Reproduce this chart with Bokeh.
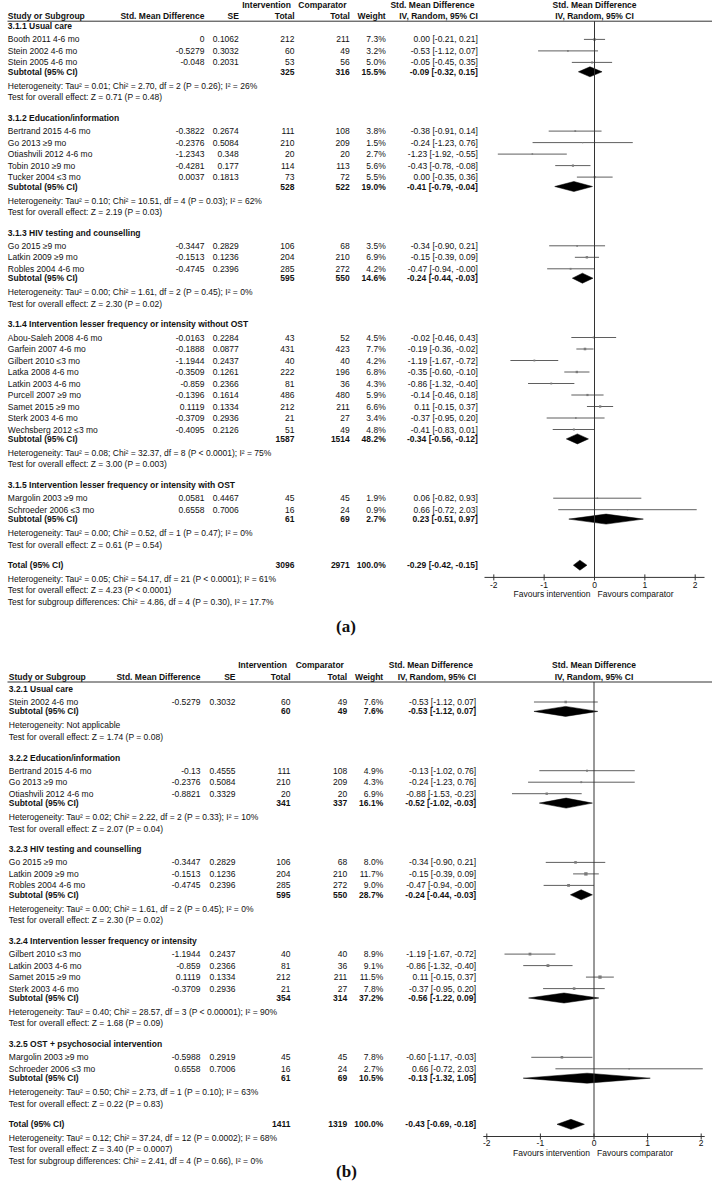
from bokeh.plotting import figure
from bokeh.models import Range1d, ColumnDataSource
from bokeh.layouts import column
from bokeh.embed import file_html
from bokeh.resources import INLINE
from bokeh.core.properties import value

# ======================= DATA: panel (a) =======================
a_groups = ["3.1.1 Usual care", "3.1.2 Education/information",
            "3.1.3 HIV testing and counselling",
            "3.1.4 Intervention lesser frequency or intensity without OST",
            "3.1.5 Intervention lesser frequency or intensity with OST"]
a_group_of = [0, 0, 0, 1, 1, 1, 1, 1, 2, 2, 2, 3, 3, 3, 3, 3, 3, 3, 3, 3, 4, 4]
a_study = ["Booth 2011 4-6 mo", "Stein 2002 4-6 mo", "Stein 2005 4-6 mo",
           "Bertrand 2015 4-6 mo", "Go 2013 \u22659 mo", "Otiashvili 2012 4-6 mo",
           "Tobin 2010 \u22659 mo", "Tucker 2004 \u22643 mo",
           "Go 2015 \u22659 mo", "Latkin 2009 \u22659 mo", "Robles 2004 4-6 mo",
           "Abou-Saleh 2008 4-6 mo", "Garfein 2007 4-6 mo", "Gilbert 2010 \u22643 mo",
           "Latka 2008 4-6 mo", "Latkin 2003 4-6 mo", "Purcell 2007 \u22659 mo",
           "Samet 2015 \u22659 mo", "Sterk 2003 4-6 mo", "Wechsberg 2012 \u22643 mo",
           "Margolin 2003 \u22659 mo", "Schroeder 2006 \u22643 mo"]
a_smd = [0, -0.5279, -0.048, -0.3822, -0.2376, -1.2343, -0.4281, 0.0037,
         -0.3447, -0.1513, -0.4745, -0.0163, -0.1888, -1.1944, -0.3509, -0.859,
         -0.1396, 0.1119, -0.3709, -0.4095, 0.0581, 0.6558]
a_se = [0.1062, 0.3032, 0.2031, 0.2674, 0.5084, 0.348, 0.177, 0.1813,
        0.2829, 0.1236, 0.2396, 0.2284, 0.0877, 0.2437, 0.1261, 0.2366,
        0.1614, 0.1334, 0.2936, 0.2126, 0.4467, 0.7006]
a_n_int = [212, 60, 53, 111, 210, 20, 114, 73, 106, 204, 285, 43, 431, 40, 222, 81,
           486, 212, 21, 51, 45, 16]
a_n_comp = [211, 49, 56, 108, 209, 20, 113, 72, 68, 210, 272, 52, 423, 40, 196, 36,
            480, 211, 27, 49, 45, 24]
a_weight = [7.3, 3.2, 5.0, 3.8, 1.5, 2.7, 5.6, 5.5, 3.5, 6.9, 4.2, 4.5, 7.7, 4.2, 6.8,
            4.3, 5.9, 6.6, 3.4, 4.8, 1.9, 0.9]
a_lo = [-0.21, -1.12, -0.45, -0.91, -1.23, -1.92, -0.78, -0.35, -0.90, -0.39, -0.94,
        -0.46, -0.36, -1.67, -0.60, -1.32, -0.46, -0.15, -0.95, -0.83, -0.82, -0.72]
a_hi = [0.21, 0.07, 0.35, 0.14, 0.76, -0.55, -0.08, 0.36, 0.21, 0.09, -0.00,
        0.43, -0.02, -0.72, -0.10, -0.40, 0.18, 0.37, 0.20, 0.01, 0.93, 2.03]
a_sub_n_int = [325, 528, 595, 1587, 61]
a_sub_n_comp = [316, 522, 550, 1514, 69]
a_sub_weight = [15.5, 19.0, 14.6, 48.2, 2.7]
a_sub_est = [-0.09, -0.41, -0.24, -0.34, 0.23]
a_sub_lo = [-0.32, -0.79, -0.44, -0.56, -0.51]
a_sub_hi = [0.15, -0.04, -0.03, -0.12, 0.97]
a_sub_het = ["Heterogeneity: Tau\u00b2 = 0.01; Chi\u00b2 = 2.70, df = 2 (P = 0.26); I\u00b2 = 26%",
             "Heterogeneity: Tau\u00b2 = 0.10; Chi\u00b2 = 10.51, df = 4 (P = 0.03); I\u00b2 = 62%",
             "Heterogeneity: Tau\u00b2 = 0.00; Chi\u00b2 = 1.61, df = 2 (P = 0.45); I\u00b2 = 0%",
             "Heterogeneity: Tau\u00b2 = 0.08; Chi\u00b2 = 32.37, df = 8 (P < 0.0001); I\u00b2 = 75%",
             "Heterogeneity: Tau\u00b2 = 0.00; Chi\u00b2 = 0.52, df = 1 (P = 0.47); I\u00b2 = 0%"]
a_sub_test = ["Test for overall effect: Z = 0.71 (P = 0.48)",
              "Test for overall effect: Z = 2.19 (P = 0.03)",
              "Test for overall effect: Z = 2.30 (P = 0.02)",
              "Test for overall effect: Z = 3.00 (P = 0.003)",
              "Test for overall effect: Z = 0.61 (P = 0.54)"]
a_tot_n = [3096, 2971]
a_tot_weight = 100.0
a_tot_ci = [-0.29, -0.42, -0.15]
a_tot_notes = ["Heterogeneity: Tau\u00b2 = 0.05; Chi\u00b2 = 54.17, df = 21 (P < 0.0001); I\u00b2 = 61%",
               "Test for overall effect: Z = 4.23 (P < 0.0001)",
               "Test for subgroup differences: Chi\u00b2 = 4.86, df = 4 (P = 0.30), I\u00b2 = 17.7%"]

# ======================= DATA: panel (b) =======================
b_groups = ["3.2.1 Usual care", "3.2.2 Education/information",
            "3.2.3 HIV testing and counselling",
            "3.2.4 Intervention lesser frequency or intensity",
            "3.2.5 OST + psychosocial intervention"]
b_group_of = [0, 1, 1, 1, 2, 2, 2, 3, 3, 3, 3, 4, 4]
b_study = ["Stein 2002 4-6 mo", "Bertrand 2015 4-6 mo", "Go 2013 \u22659 mo",
           "Otiashvili 2012 4-6 mo", "Go 2015 \u22659 mo", "Latkin 2009 \u22659 mo",
           "Robles 2004 4-6 mo", "Gilbert 2010 \u22643 mo", "Latkin 2003 4-6 mo",
           "Samet 2015 \u22659 mo", "Sterk 2003 4-6 mo", "Margolin 2003 \u22659 mo",
           "Schroeder 2006 \u22643 mo"]
b_smd = [-0.5279, -0.13, -0.2376, -0.8821, -0.3447, -0.1513, -0.4745, -1.1944, -0.859,
         0.1119, -0.3709, -0.5988, 0.6558]
b_se = [0.3032, 0.4555, 0.5084, 0.3329, 0.2829, 0.1236, 0.2396, 0.2437, 0.2366, 0.1334,
        0.2936, 0.2919, 0.7006]
b_n_int = [60, 111, 210, 20, 106, 204, 285, 40, 81, 212, 21, 45, 16]
b_n_comp = [49, 108, 209, 20, 68, 210, 272, 40, 36, 211, 27, 45, 24]
b_weight = [7.6, 4.9, 4.3, 6.9, 8.0, 11.7, 9.0, 8.9, 9.1, 11.5, 7.8, 7.8, 2.7]
b_lo = [-1.12, -1.02, -1.23, -1.53, -0.90, -0.39, -0.94, -1.67, -1.32, -0.15, -0.95,
        -1.17, -0.72]
b_hi = [0.07, 0.76, 0.76, -0.23, 0.21, 0.09, -0.00, -0.72, -0.40, 0.37, 0.20, -0.03, 2.03]
b_sub_n_int = [60, 341, 595, 354, 61]
b_sub_n_comp = [49, 337, 550, 314, 69]
b_sub_weight = [7.6, 16.1, 28.7, 37.2, 10.5]
b_sub_est = [-0.53, -0.52, -0.24, -0.56, -0.13]
b_sub_lo = [-1.12, -1.02, -0.44, -1.22, -1.32]
b_sub_hi = [0.07, -0.03, -0.03, 0.09, 1.05]
b_sub_het = ["Heterogeneity: Not applicable",
             "Heterogeneity: Tau\u00b2 = 0.02; Chi\u00b2 = 2.22, df = 2 (P = 0.33); I\u00b2 = 10%",
             "Heterogeneity: Tau\u00b2 = 0.00; Chi\u00b2 = 1.61, df = 2 (P = 0.45); I\u00b2 = 0%",
             "Heterogeneity: Tau\u00b2 = 0.40; Chi\u00b2 = 28.57, df = 3 (P < 0.00001); I\u00b2 = 90%",
             "Heterogeneity: Tau\u00b2 = 0.50; Chi\u00b2 = 2.73, df = 1 (P = 0.10); I\u00b2 = 63%"]
b_sub_test = ["Test for overall effect: Z = 1.74 (P = 0.08)",
              "Test for overall effect: Z = 2.07 (P = 0.04)",
              "Test for overall effect: Z = 2.30 (P = 0.02)",
              "Test for overall effect: Z = 1.68 (P = 0.09)",
              "Test for overall effect: Z = 0.22 (P = 0.83)"]
b_tot_n = [1411, 1319]
b_tot_weight = 100.0
b_tot_ci = [-0.43, -0.69, -0.18]
b_tot_notes = ["Heterogeneity: Tau\u00b2 = 0.12; Chi\u00b2 = 37.24, df = 12 (P = 0.0002); I\u00b2 = 68%",
               "Test for overall effect: Z = 3.40 (P = 0.0007)",
               "Test for subgroup differences: Chi\u00b2 = 2.41, df = 4 (P = 0.66), I\u00b2 = 0%"]

axis_ticks = [-2, -1, 0, 1, 2]
favours = ["Favours intervention", "Favours comparator"]

# ======================= STYLE / LAYOUT =======================
FONT = "Liberation Sans"
SERIF = "Liberation Serif"
FS = 8.5
TXT = "#111111"
CI_COL = "#5f5f5f"
SQ_COL = "#7a7a7a"
W = 712
X0 = 0.0
G_TO_S, STUDY, S_TO_SUB, SUB_TO_HET, HET_TO_TEST, GAP = 13.2, 11.5, 9.4, 14.0, 11.4, 20.7
TOT_TO_HET, HET_TO_TEST2, TEST_TO_SG = 13.8, 11.2, 11.6


def stack(group_of, n_groups, g1):
    gy, sy, suby, hety, testy = [], [], [], [], []
    y = g1
    for g in range(n_groups):
        if g:
            y += GAP
        gy.append(y)
        y += G_TO_S
        for i in range(group_of.count(g)):
            if i:
                y += STUDY
            sy.append(y)
        y += S_TO_SUB
        suby.append(y)
        y += SUB_TO_HET
        hety.append(y)
        y += HET_TO_TEST
        testy.append(y)
    tot = y + GAP
    tail = [tot + TOT_TO_HET, tot + TOT_TO_HET + HET_TO_TEST2,
            tot + TOT_TO_HET + HET_TO_TEST2 + TEST_TO_SG]
    return gy, sy, suby, hety, testy, tot, tail


def txt(p, xs, ys, texts, align="left", bold=False, rng=None, x_offset=0,
        font=FONT, size=FS):
    src = ColumnDataSource(dict(x=list(xs), y=list(ys), text=list(texts)))
    kw = {"x_range_name": rng} if rng else {}
    p.text(x="x", y="y", text="text", source=src, text_align=align,
           text_baseline="middle", text_font=value(font),
           text_font_size=f"{size}px",
           text_font_style="bold" if bold else "normal",
           text_color=TXT, x_offset=x_offset, **kw)


def ci_str(e, l, h):
    return f"{e:.2f} [{l:.2f}, {h:.2f}]"


def build(d, c):
    H = c["height"]
    p = figure(width=W, height=H, x_range=Range1d(X0, X0 + W),
               y_range=Range1d(c["top"] + H, c["top"]),
               output_backend="svg", toolbar_location=None, min_border=0,
               x_axis_location=None, y_axis_location=None,
               outline_line_color=None, background_fill_color="white",
               border_fill_color="white")
    p.grid.visible = False
    p.extra_x_ranges = {"f": Range1d((X0 - c["zero"]) / c["unit"],
                                     (X0 + W - c["zero"]) / c["unit"])}
    col = c["cols"]
    ng = len(d["groups"])
    gy, sy, suby, hety, testy, tot, tail = stack(d["group_of"], ng, c["g1"])
    ns = len(d["study"])

    # headers
    h1, h2, hl = c["g1"] - c["h1"], c["g1"] - c["h2"], c["g1"] - c["hl"]
    txt(p, [col["nint"] - 3.6], [h1], ["Intervention"], "right", True)
    txt(p, [col["ncomp"] - 3.3], [h1], ["Comparator"], "right", True)
    txt(p, [col["ci"] - 3.3], [h1], ["Std. Mean Difference"], "right", True)
    txt(p, [0], [h1], ["Std. Mean Difference"], "center", True, rng="f")
    txt(p, [col["study"]], [h2], ["Study or Subgroup"], "left", True)
    txt(p, [col["smd"], col["se"], col["nint"], col["ncomp"], col["w"], col["ci"]],
        [h2] * 6, ["Std. Mean Difference", "SE", "Total", "Total", "Weight",
                   "IV, Random, 95% CI"], "right", True)
    txt(p, [0], [h2], ["IV, Random, 95% CI"], "center", True, rng="f")
    p.segment(x0=[7], y0=[hl], x1=[X0 + W], y1=[hl], line_color="#333333",
              line_width=1)

    # group titles
    txt(p, [col["study"]] * ng, gy, d["groups"], "left", True)
    # study rows
    txt(p, [col["study"]] * ns, sy, d["study"])
    txt(p, [col["smd"]] * ns, sy, [f"{v:g}" for v in d["smd"]], "right")
    txt(p, [col["se"]] * ns, sy, [f"{v:g}" for v in d["se"]], "right")
    txt(p, [col["nint"]] * ns, sy, [str(v) for v in d["n_int"]], "right")
    txt(p, [col["ncomp"]] * ns, sy, [str(v) for v in d["n_comp"]], "right")
    txt(p, [col["w"]] * ns, sy, [f"{v:.1f}%" for v in d["weight"]], "right")
    txt(p, [col["ci"]] * ns, sy,
        [ci_str(e, l, h) for e, l, h in zip(d["smd"], d["lo"], d["hi"])], "right")
    # subtotals
    txt(p, [col["study"]] * ng, suby, ["Subtotal (95% CI)"] * ng, "left", True)
    txt(p, [col["nint"]] * ng, suby, [str(v) for v in d["sub_n_int"]], "right", True)
    txt(p, [col["ncomp"]] * ng, suby, [str(v) for v in d["sub_n_comp"]], "right", True)
    txt(p, [col["w"]] * ng, suby, [f"{v:.1f}%" for v in d["sub_weight"]], "right", True)
    txt(p, [col["ci"]] * ng, suby,
        [ci_str(e, l, h) for e, l, h in zip(d["sub_est"], d["sub_lo"], d["sub_hi"])],
        "right", True)
    txt(p, [col["study"]] * ng, hety, d["sub_het"])
    txt(p, [col["study"]] * ng, testy, d["sub_test"])
    # total
    txt(p, [col["study"]], [tot], ["Total (95% CI)"], "left", True)
    txt(p, [col["nint"], col["ncomp"], col["w"], col["ci"]], [tot] * 4,
        [str(d["tot_n"][0]), str(d["tot_n"][1]), f"{d['tot_weight']:.1f}%",
         ci_str(*d["tot_ci"])], "right", True)
    txt(p, [col["study"]] * 3, tail, d["tot_notes"])

    # forest: study CIs and squares
    p.segment(x0=d["lo"], y0=sy, x1=d["hi"], y1=sy, x_range_name="f",
              line_color=CI_COL, line_width=1)
    p.scatter(x=d["smd"], y=sy, marker="square",
              size=[1.0 + 0.2 * w for w in d["weight"]], x_range_name="f",
              fill_color=SQ_COL, line_color=None)
    # diamonds
    dx = [[l, e, h, e] for e, l, h in zip(d["sub_est"], d["sub_lo"], d["sub_hi"])]
    dy = [[y, y - 5, y, y + 5] for y in suby]
    e, l, h = d["tot_ci"]
    dx.append([l, e, h, e])
    dy.append([tot, tot - 5, tot, tot + 5])
    p.patches(xs=dx, ys=dy, x_range_name="f", fill_color="black", line_color="black",
              line_width=0.5)

    # zero line and axis
    ay = tot + 12.2
    p.segment(x0=[0], y0=[hl], x1=[0], y1=[ay], x_range_name="f",
              line_color="#333333", line_width=1)
    pad = c["axis_pad"] / c["unit"]
    p.segment(x0=[axis_ticks[0] - pad], y0=[ay], x1=[axis_ticks[-1] + pad], y1=[ay],
              x_range_name="f", line_color="#333333", line_width=1)
    p.segment(x0=axis_ticks, y0=[ay - 3] * len(axis_ticks), x1=axis_ticks,
              y1=[ay + 3] * len(axis_ticks), x_range_name="f",
              line_color="#333333", line_width=1)
    txt(p, axis_ticks, [ay + c["tick_dy"]] * len(axis_ticks),
        [str(t) for t in axis_ticks], "center", rng="f")
    txt(p, [0], [ay + 16.4], [favours[0]], "right", rng="f", x_offset=-4)
    txt(p, [0], [ay + 16.4], [favours[1]], "left", rng="f", x_offset=3)

    # panel label
    txt(p, [c["label_x"]], [tail[-1] + c["label_dy"]], [c["label"]], "center", True,
        font=SERIF, size=17)
    return p


data_a = dict(groups=a_groups, group_of=a_group_of, study=a_study, smd=a_smd, se=a_se,
              n_int=a_n_int, n_comp=a_n_comp, weight=a_weight, lo=a_lo, hi=a_hi,
              sub_n_int=a_sub_n_int, sub_n_comp=a_sub_n_comp, sub_weight=a_sub_weight,
              sub_est=a_sub_est, sub_lo=a_sub_lo, sub_hi=a_sub_hi, sub_het=a_sub_het,
              sub_test=a_sub_test, tot_n=a_tot_n, tot_weight=a_tot_weight,
              tot_ci=a_tot_ci, tot_notes=a_tot_notes)
data_b = dict(groups=b_groups, group_of=b_group_of, study=b_study, smd=b_smd, se=b_se,
              n_int=b_n_int, n_comp=b_n_comp, weight=b_weight, lo=b_lo, hi=b_hi,
              sub_n_int=b_sub_n_int, sub_n_comp=b_sub_n_comp, sub_weight=b_sub_weight,
              sub_est=b_sub_est, sub_lo=b_sub_lo, sub_hi=b_sub_hi, sub_het=b_sub_het,
              sub_test=b_sub_test, tot_n=b_tot_n, tot_weight=b_tot_weight,
              tot_ci=b_tot_ci, tot_notes=b_tot_notes)

cfg_a = dict(height=640, top=0.0, g1=25.7, h1=21.2, h2=10.7, hl=5.0,
             zero=594.0, unit=50.35, axis_pad=9.3, tick_dy=7.5,
             cols=dict(study=7.3, smd=204, se=238.3, nint=294, ncomp=349.3, w=385.2,
                       ci=477.3),
             label="(a)", label_x=345.5, label_dy=24.5)
cfg_b = dict(height=541, top=640.0, g1=688.3, h1=24.0, h2=12.0, hl=6.8,
             zero=593.5, unit=53.6, axis_pad=3.5, tick_dy=6.0,
             cols=dict(study=8.3, smd=200, se=235, nint=290, ncomp=346.7, w=382.7,
                       ci=475.7),
             label="(b)", label_x=346, label_dy=10.5)

pa = build(data_a, cfg_a)
pb = build(data_b, cfg_b)
layout = column(pa, pb, spacing=0)
open("out.html", "w").write(file_html(layout, INLINE))
